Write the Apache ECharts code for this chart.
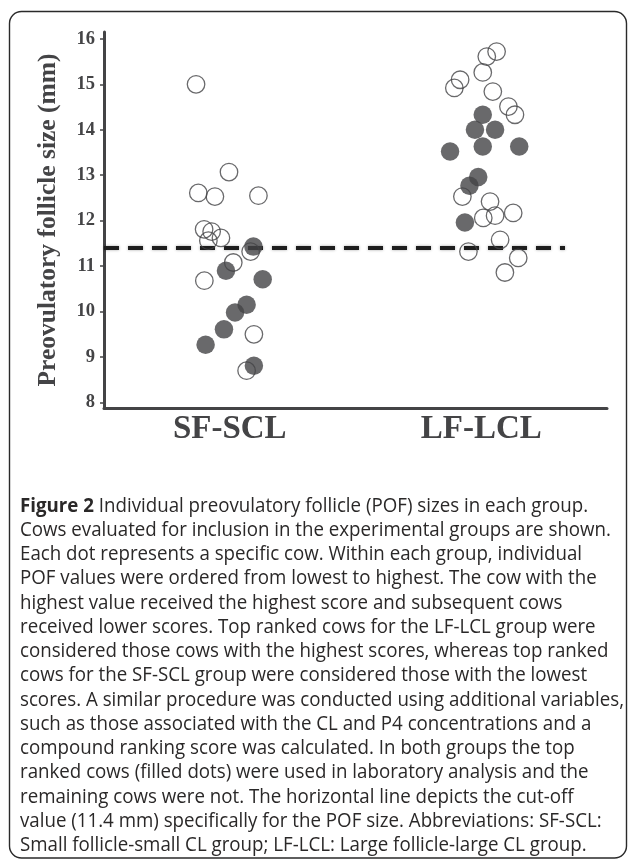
<!DOCTYPE html>
<html>
<head>
<meta charset="utf-8">
<script src="https://cdn.jsdelivr.net/npm/echarts@6/dist/echarts.min.js"></script>
<style>
html,body{margin:0;padding:0;background:#fff;}
#chart{width:629px;height:861px;}
</style>
</head>
<body>
<div id="chart"></div>
<script>
// ---------- data ----------
const categories = ['SF-SCL', 'LF-LCL'];
const yTicks = [8, 9, 10, 11, 12, 13, 14, 15, 16];
const cutoff = 11.4;
const cutoffExtent = [0, 1.833];

// [horizontal position (group 0..1 / 1..2, jittered), POF size mm]
const sfOpen = [[0.366,15.00],[0.497,13.07],[0.375,12.61],[0.441,12.53],[0.614,12.55],
  [0.398,11.81],[0.428,11.76],[0.465,11.62],[0.415,11.56],[0.583,11.32],[0.514,11.08],
  [0.399,10.68],[0.596,9.50],[0.567,8.70]];
const sfFilled = [[0.594,11.43],[0.485,10.90],[0.631,10.71],[0.567,10.15],[0.521,9.98],
  [0.477,9.61],[0.404,9.27],[0.596,8.81]];
const lfOpen = [[1.561,15.72],[1.522,15.61],[1.506,15.26],[1.416,15.10],[1.393,14.92],
  [1.546,14.84],[1.608,14.51],[1.634,14.33],[1.425,12.53],[1.535,12.42],[1.508,12.06],
  [1.555,12.11],[1.627,12.17],[1.575,11.58],[1.449,11.32],[1.647,11.18],[1.594,10.86]];
const lfFilled = [[1.506,14.33],[1.475,14.00],[1.555,14.00],[1.376,13.52],[1.506,13.63],
  [1.651,13.63],[1.488,12.96],[1.453,12.77],[1.435,11.96]];

const captionLines = [
  'Individual preovulatory follicle (POF) sizes in each group.',
  'Cows evaluated for inclusion in the experimental groups are shown.',
  'Each dot represents a specific cow. Within each group, individual',
  'POF values were ordered from lowest to highest. The cow with the',
  'highest value received the highest score and subsequent cows',
  'received lower scores. Top ranked cows for the LF-LCL group were',
  'considered those cows with the highest scores, whereas top ranked',
  'cows for the SF-SCL group were considered those with the lowest',
  'scores. A similar procedure was conducted using additional variables,',
  'such as those associated with the CL and P4 concentrations and a',
  'compound ranking score was calculated. In both groups the top',
  'ranked cows (filled dots) were used in laboratory analysis and the',
  'remaining cows were not. The horizontal line depicts the cut-off',
  'value (11.4 mm) specifically for the POF size. Abbreviations: SF-SCL:',
  'Small follicle-small CL group; LF-LCL: Large follicle-large CL group.'
];
const captionTitle = 'Figure 2';

// ---------- layout ----------
const DARK = '#444446';
const capFont = '"Open Sans", "Noto Sans", sans-serif';
const capSize = 20;
const cv = document.createElement('canvas').getContext('2d');
cv.font = capSize + 'px ' + capFont;
const targetW = 591;
const sx = targetW / cv.measureText(captionLines[1]).width;

const captionGraphics = captionLines.map((line, i) => ({
  type: 'text',
  left: 20,
  top: 496 + i * 24.25,
  scaleX: sx,
  style: {
    text: i === 0 ? '{b|' + captionTitle + '} ' + line : line,
    font: capSize + 'px ' + capFont,
    fill: '#2a2828',
    rich: { b: { fontWeight: 'bold', fontSize: capSize, fontFamily: capFont, fill: '#2a2828' } }
  }
}));

const chart = echarts.init(document.getElementById('chart'), null, { renderer: 'canvas' });
const openStyle = { color: 'rgba(255,255,255,0)', borderColor: DARK, borderWidth: 1.3 };
const filledStyle = { color: DARK, borderColor: DARK, borderWidth: 0 };

chart.setOption({
  animation: false,
  backgroundColor: '#fff',
  grid: { left: 104, right: 22, top: 32, bottom: 453, containLabel: false },
  xAxis: [{
    type: 'category',
    data: categories,
    boundaryGap: true,
    axisLine: { lineStyle: { color: DARK, width: 3 } },
    axisTick: { alignWithLabel: true, length: 5, lineStyle: { color: DARK, width: 1 } },
    axisLabel: { color: DARK, fontFamily: '"Liberation Serif", serif', fontWeight: 'bold', fontSize: 33, margin: 5 },
    splitLine: { show: false }
  }, {
    type: 'value', min: 0, max: 2, show: false
  }],
  yAxis: {
    type: 'value',
    min: 7.88, max: 16.15,
    name: 'Preovulatory follicle size (mm)',
    nameLocation: 'middle',
    nameGap: 43,
    nameTextStyle: { color: DARK, fontFamily: '"Liberation Serif", serif', fontWeight: 'bold', fontSize: 25.5 },
    axisLine: { show: true, lineStyle: { color: DARK, width: 3 } },
    axisTick: { show: true, length: 4, customValues: yTicks, lineStyle: { color: DARK, width: 1.5 } },
    axisLabel: { color: DARK, fontFamily: '"Liberation Serif", serif', fontWeight: 'bold', fontSize: 18.5, margin: 9, customValues: yTicks },
    splitLine: { show: false }
  },
  graphic: [{
    type: 'rect',
    shape: { x: 9.5, y: 11.5, width: 617, height: 846.5, r: 12 },
    style: { fill: 'none', stroke: '#2a2a2a', lineWidth: 1.4 },
    silent: true
  }].concat(captionGraphics),
  series: [{
    type: 'line',
    xAxisIndex: 1,
    data: cutoffExtent.map(x => [x, cutoff]),
    symbol: 'none',
    lineStyle: { color: '#1e1e1e', width: 4, type: [15, 9], shadowBlur: 3, shadowColor: 'rgba(0,0,0,0.35)' },
    z: 1
  }, {
    type: 'scatter', xAxisIndex: 1, data: sfOpen.concat(lfOpen),
    symbolSize: 17.5, itemStyle: openStyle, z: 2
  }, {
    type: 'scatter', xAxisIndex: 1, data: sfFilled.concat(lfFilled),
    symbolSize: 18.5, itemStyle: filledStyle, z: 3
  }]
});
</script>
</body>
</html>
